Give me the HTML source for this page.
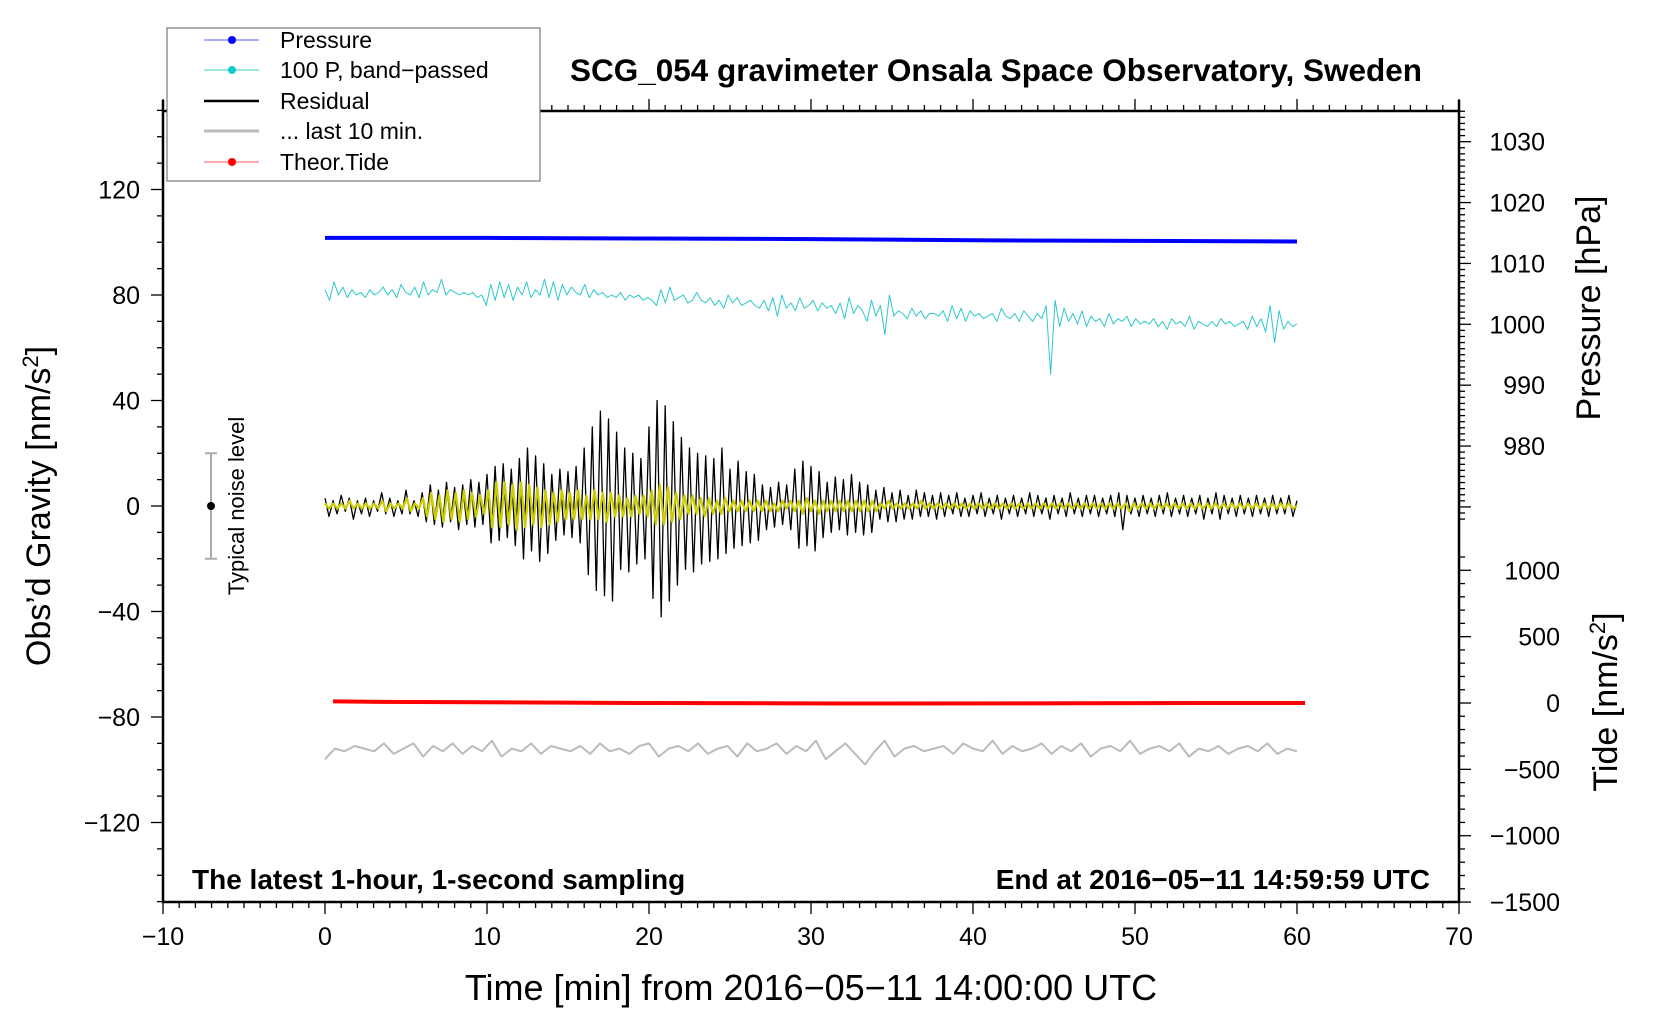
<!DOCTYPE html>
<html><head><meta charset="utf-8"><style>
html,body{margin:0;padding:0;background:#fff;}
svg{display:block;font-family:"Liberation Sans",sans-serif;}
</style></head><body>
<svg id="chart" width="1660" height="1020" viewBox="0 0 1660 1020" xmlns="http://www.w3.org/2000/svg">
<g id="axes"></g>
<g id="series"></g>
<text x="996" y="81" font-size="31.5" font-weight="bold" text-anchor="middle">SCG_054 gravimeter Onsala Space Observatory, Sweden</text>
<text x="192" y="889" font-size="28" font-weight="bold">The latest 1-hour, 1-second sampling</text>
<text x="1430" y="889" font-size="28" font-weight="bold" text-anchor="end">End at 2016−05−11 14:59:59 UTC</text>
<text x="811" y="1000" font-size="36" text-anchor="middle">Time [min] from 2016−05−11 14:00:00 UTC</text>
<text transform="translate(50,506) rotate(-90)" font-size="34" text-anchor="middle">Obs’d Gravity [nm/s<tspan font-size="22" dy="-12">2</tspan><tspan dy="12">]</tspan></text>
<text transform="translate(1600,308) rotate(-90)" font-size="34" text-anchor="middle">Pressure [hPa]</text>
<text transform="translate(1617,702) rotate(-90)" font-size="34" text-anchor="middle">Tide [nm/s<tspan font-size="22" dy="-12">2</tspan><tspan dy="12">]</tspan></text>
<text transform="translate(244,506) rotate(-90)" font-size="22" text-anchor="middle">Typical noise level</text>
<g>
<rect x="167" y="28" width="373" height="153" fill="#fff" stroke="#777" stroke-width="1.2"/>
<g><line x1="204" y1="40" x2="259" y2="40" stroke="#55f" stroke-width="1"/><circle cx="232" cy="40" r="4" fill="#00f"/><text x="280" y="48" font-size="23">Pressure</text></g>
<g><line x1="204" y1="70" x2="259" y2="70" stroke="#4cc" stroke-width="1"/><circle cx="232" cy="70" r="4" fill="#1cc"/><text x="280" y="78" font-size="23">100 P, band−passed</text></g>
<g><line x1="204" y1="101" x2="259" y2="101" stroke="#000" stroke-width="2.5"/><text x="280" y="109" font-size="23">Residual</text></g>
<g><line x1="204" y1="131" x2="259" y2="131" stroke="#bbb" stroke-width="3"/><text x="280" y="139" font-size="23">... last 10 min.</text></g>
<g><line x1="204" y1="162" x2="259" y2="162" stroke="#f55" stroke-width="1"/><circle cx="232" cy="162" r="4" fill="#f00"/><text x="280" y="170" font-size="23">Theor.Tide</text></g>
</g>
</svg>
<script>
const xTicks=[-10,0,10,20,30,40,50,60,70];
const yTicks=[-120,-80,-40,0,40,80,120];
const pTicks=[980,990,1000,1010,1020,1030];
const tideTicks=[-1500,-1000,-500,0,500,1000];
const pressureT=[0,10,20,30,40,50,60];
const pressureV=[1014.2,1014.2,1014.1,1014.0,1013.8,1013.7,1013.6];
const tideT=[0.5,3.5,13,20,32,43,55,60.5];
const tideV=[12,8,4,0,-4,-3,0,0];
const residual=[3,-4,2,-3,4,-2,3,-5,2,-3,3,-4,2,-2,5,-3,3,-4,2,-3,6,-3,2,-4,
5,-6,8,-7,6,-8,9,-6,7,-9,8,-7,10,-8,9,-7,
12,-14,15,-13,16,-12,14,-15,
18,-20,22,-17,19,-21,16,-18,
12,-13,14,-11,13,-12,15,-14,
22,-26,30,-32,36,-34,33,-36,
28,-24,22,-25,20,-22,18,-20,
30,-35,40,-42,38,-36,32,-30,
26,-24,22,-25,20,-22,19,-21,18,-20,22,-18,
14,-16,17,-15,13,-14,12,-13,
8,-9,7,-8,9,-7,8,-9,
14,-16,17,-15,15,-17,13,-12,
9,-10,11,-9,10,-11,12,-10,9,-11,8,-10,
6,-5,7,-6,5,-6,6,-5,4,-5,6,-4,5,-4,4,-5,5,-4,4,-3,5,-4,3,-4,
4,-3,5,-4,3,-3,4,-5,3,-3,4,-4,3,-3,5,-4,4,-3,3,-5,4,-3,3,-4,5,-3,3,-4,4,-3,4,-4,3,-3,4,-4,
5,-9,4,-3,3,-4,4,-3,3,-4,4,-3,5,-4,3,-3,4,-4,3,-3,4,-5,3,-3,5,-5,4,-3,3,-4,4,-3,3,-4,4,-3,3,-4,4,-3,3,-3,4,-4,2];
const filtered=[1,-1,1,-1,1,-1,2,-1,1,-1,1,-1,1,-1,2,-2,1,-1,1,-1,3,-2,1,-1,
3,-4,5,-5,4,-6,6,-5,5,-6,6,-5,5,-4,4,-3,
6,-8,9,-8,9,-7,8,-9,
9,-8,8,-7,7,-8,6,-7,
5,-6,6,-5,5,-5,6,-5,
4,-5,6,-5,5,-6,5,-4,
4,-4,3,-4,4,-3,4,-4,
6,-7,8,-7,7,-6,5,-5,
4,-3,4,-3,3,-4,3,-3,2,-3,3,-2,
2,-2,2,-2,2,-2,2,-2,
2,-2,1,-2,2,-1,2,-2,
2,-3,3,-2,2,-3,2,-2,
2,-2,2,-2,2,-2,2,-2,2,-2,2,-2,
1,-1,2,-1,1,-1,1,-1,1,-1,2,-1,1,-1,1,-1,1,-1,1,-1,1,-1,1,-1,
1,-1,1,-1,1,-1,1,-1,1,-1,1,-1,1,-1,1,-1,1,-1,1,-1,1,-1,1,-1,1,-1,1,-1,1,-1,1,-1,1,-1,1,-1,
1,-2,1,-1,1,-1,1,-1,1,-1,1,-1,1,-1,1,-1,1,-1,1,-1,1,-1,1,-1,1,-1,1,-1,1,-1,1,-1,1,-1,1,-1,1,-1,1,-1,1,-1,0];
const bandPassed=[82,78,85,80,83,79,82,80,81,79,82,80,81,83,80,82,79,84,81,80,83,79,85,80,
82,81,86,80,82,81,80,81,80,81,79,80,76,84,78,85,
79,84,78,83,80,85,79,82,80,86,79,85,78,84,80,83,
81,80,84,79,82,80,81,79,80,79,81,78,80,79,80,78,
79,78,76,82,77,83,78,79,80,77,78,81,78,77,79,76,
78,75,80,77,79,76,77,78,76,75,78,74,79,72,80,75,
77,74,79,75,76,78,74,77,75,76,73,77,71,79,73,76,
74,70,78,72,76,65,80,72,74,73,71,75,72,74,71,73,
73,72,74,70,76,71,75,70,74,72,73,71,72,73,70,75,
72,71,73,70,74,72,70,73,71,76,50,78,68,75,70,73,
69,74,68,72,70,71,68,73,69,71,70,72,68,71,69,70,
69,71,68,70,67,71,69,70,68,72,67,70,69,68,
70,68,71,69,70,68,69,70,67,72,68,71,66,76,62,74,
67,70,68,69];
const last10=[-96,-92,-93,-91,-92,-93,-90,-94,-92,-90,-95,-91,-93,-90,-94,-91,-93,-89,-95,-92,
-93,-90,-94,-91,-92,-93,-91,-94,-90,-93,-92,-94,-91,-90,-95,-92,-91,-93,-90,-94,
-92,-91,-95,-90,-93,-92,-90,-94,-91,-93,-89,-96,-93,-90,-94,-98,-93,-89,-95,-92,
-91,-93,-92,-91,-94,-90,-92,-93,-89,-94,-91,-93,-92,-90,-94,-91,-93,-90,-95,-92,
-91,-93,-89,-94,-92,-91,-93,-90,-95,-92,-93,-91,-94,-92,-91,-93,-90,-94,-92,-93];

const X0=163,X1=1459,Y0=111,Y1=902;
const xs=v=>X0+(v+10)/80*(X1-X0);
const ys=v=>506-v*2.6375;
const ps=v=>324.3-(v-1000)*6.087;
const ts=v=>703-v*0.1327;
const NS='http://www.w3.org/2000/svg';
function mk(tag,attrs,parent){const e=document.createElementNS(NS,tag);for(const k in attrs)e.setAttribute(k,attrs[k]);parent.appendChild(e);return e;}
const ax=document.getElementById('axes'),se=document.getElementById('series');
const frame=mk('rect',{x:X0,y:Y0,width:X1-X0,height:Y1-Y0,fill:'none',stroke:'#000','stroke-width':2.5},ax);


const lext=mk('line',{x1:X0,y1:100,x2:X0,y2:Y0,stroke:'#000','stroke-width':2.5},ax);


const rext=mk('line',{x1:X1,y1:100,x2:X1,y2:Y0,stroke:'#000','stroke-width':2.5},ax);


for(let m=-10;m<=70;m++){const major=m%10===0;const x=xs(m);
mk('line',{x1:x,y1:Y1,x2:x,y2:Y1+(major?12:6),stroke:'#000','stroke-width':1.3},ax);
mk('line',{x1:x,y1:Y0,x2:x,y2:Y0-(major?12:6),stroke:'#000','stroke-width':1.3},ax);}
xTicks.forEach(v=>{const t=mk('text',{x:xs(v),y:945,'font-size':25,'text-anchor':'middle'},ax);t.textContent=(v<0?'−':'')+Math.abs(v);

});
for(let v=-150;v<=150;v+=10){const major=v%40===0;const y=ys(v);
mk('line',{x1:X0,y1:y,x2:X0-(major?12:6),y2:y,stroke:'#000','stroke-width':1.3},ax);}
yTicks.forEach(v=>{const t=mk('text',{x:140,y:ys(v)+9,'font-size':25,'text-anchor':'end'},ax);t.textContent=(v<0?'−':'')+Math.abs(v);

});
for(let p=968;p<=1035;p++){const major=p%10===0;const y=ps(p);
mk('line',{x1:X1,y1:y,x2:X1+(major?12:6),y2:y,stroke:'#000','stroke-width':1.3},ax);}
pTicks.forEach(v=>{const t=mk('text',{x:1545,y:ps(v)+9,'font-size':25,'text-anchor':'end'},ax);t.textContent=v;

});
for(let v=-1500;v<=1100;v+=100){const major=v%500===0;const y=ts(v);
mk('line',{x1:X1,y1:y,x2:X1+(major?12:6),y2:y,stroke:'#000','stroke-width':1.3},ax);}
tideTicks.forEach(v=>{const t=mk('text',{x:1560,y:ts(v)+9,'font-size':25,'text-anchor':'end'},ax);t.textContent=(v<0?'−':'')+Math.abs(v);

});
const nz=mk('g',{},ax);


mk('line',{x1:211,y1:ys(20),x2:211,y2:ys(-20),stroke:'#aaa','stroke-width':2},nz);
mk('line',{x1:205,y1:ys(20),x2:217,y2:ys(20),stroke:'#aaa','stroke-width':2},nz);
mk('line',{x1:205,y1:ys(-20),x2:217,y2:ys(-20),stroke:'#aaa','stroke-width':2},nz);
mk('circle',{cx:211,cy:ys(0),r:4,fill:'#000'},nz);
function line(tv,vals,sc,style,name){const n=vals.length;
const pts=vals.map((v,i)=>{const t=tv?tv[i]:i*60/(n-1);return xs(t).toFixed(1)+','+sc(v).toFixed(1);}).join(' ');
const p=mk('polyline',Object.assign({points:pts,fill:'none','stroke-linejoin':'round'},style),se);

}
line(pressureT,pressureV,ps,{stroke:'#00f','stroke-width':4},'pressure-line');
line(null,bandPassed,ys,{stroke:'#2cc8cc','stroke-width':1},'band-passed-pressure-line');
line(null,residual,ys,{stroke:'#000','stroke-width':1.3},'residual-line');
line(null,filtered,ys,{stroke:'#cccc00','stroke-width':2.2},'filtered-residual-line');
line(tideT,tideV,ts,{stroke:'#f00','stroke-width':4},'theoretical-tide-line');
line(null,last10,ys,{stroke:'#bbb','stroke-width':2},'last-10-min-line');
</script>
</body></html>
